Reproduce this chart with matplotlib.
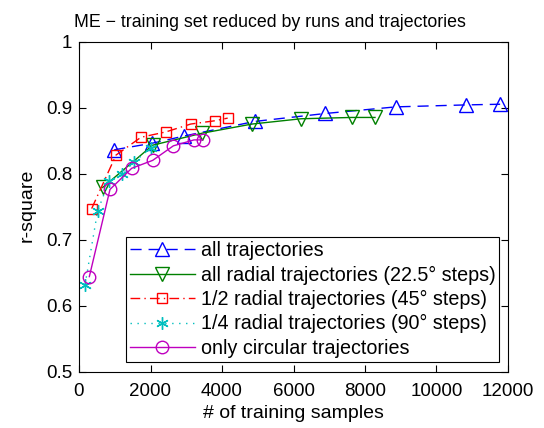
import matplotlib
matplotlib.use("Agg")
import matplotlib.pyplot as plt

plt.rcParams['font.family'] = ['Liberation Sans', 'DejaVu Sans']

title = "ME − training set reduced by runs and trajectories"
xlabel = "# of training samples"
ylabel = "r-square"

labels = [
    "all trajectories",
    "all radial trajectories (22.5° steps)",
    "1/2 radial trajectories (45° steps)",
    "1/4 radial trajectories (90° steps)",
    "only circular trajectories",
]

x_all = [985, 2050, 2950, 4920, 6890, 8860, 10830, 11780]
y_all = [0.836, 0.846, 0.857, 0.879, 0.891, 0.901, 0.904, 0.905]

x_rad = [662, 2061, 3431, 4840, 6210, 7627, 8280]
y_rad = [0.779, 0.843, 0.861, 0.875, 0.883, 0.885, 0.885]

x_half = [354, 1035, 1734, 2424, 3124, 3804, 4159]
y_half = [0.747, 0.828, 0.855, 0.863, 0.875, 0.880, 0.884]

x_quarter = [170, 520, 840, 1193, 1550, 2010]
y_quarter = [0.632, 0.743, 0.789, 0.799, 0.818, 0.839]

x_circ = [289, 867, 1473, 2061, 2639, 3217, 3459]
y_circ = [0.644, 0.776, 0.808, 0.820, 0.842, 0.851, 0.851]

xticks = [0, 2000, 4000, 6000, 8000, 10000, 12000]
yticks = [0.5, 0.6, 0.7, 0.8, 0.9, 1.0]
yticklabels = ["0.5", "0.6", "0.7", "0.8", "0.9", "1"]

W, H = 544, 428
fig = plt.figure(figsize=(W/100, H/100), dpi=100)
ax = fig.add_axes([79/W, 1-371.7/H, (508-79)/W, (371.7-41.5)/H])

fs_tick = 13.5
fs_lab = 14
fs_leg = 14.2
fs_title = 12.8
lw = 1.0
ax.plot(x_all, y_all, color=(0, 0, 1), ls=(0, (8, 5)), lw=lw, marker='^', ms=10,
        mfc='none', mec=(0, 0, 1), mew=1.0, label=labels[0])
ax.plot(x_rad, y_rad, color=(0, 0.5, 0), ls='-', lw=lw, marker='v', ms=10,
        mfc='none', mec=(0, 0.5, 0), mew=1.0, label=labels[1])
ax.plot(x_half, y_half, color=(1, 0, 0), ls=(0, (7, 3, 1, 3)), lw=lw, marker='s', ms=7.5,
        mfc='none', mec=(1, 0, 0), mew=1.0, label=labels[2])
ax.plot(x_quarter, y_quarter, color=(0, 0.75, 0.75), ls=(0, (1, 4)), lw=lw, marker=(6, 2, 0), ms=9,
        mfc='none', mec=(0, 0.75, 0.75), mew=1.0, label=labels[3])
ax.plot(x_circ, y_circ, color=(0.75, 0, 0.75), ls='-', lw=lw, marker='o', ms=9,
        mfc='none', mec=(0.75, 0, 0.75), mew=1.0, label=labels[4])

ax.set_xlim(0, 12000)
ax.set_ylim(0.5, 1.0)
ax.set_xticks(xticks)
ax.set_xticklabels([str(t) for t in xticks])
ax.set_yticks(yticks)
ax.set_yticklabels(yticklabels)
ax.tick_params(direction='in', top=True, right=True, length=5, width=0.8,
               labelsize=fs_tick)
ax.tick_params(axis='x', pad=8)
ax.tick_params(axis='y', pad=5)
for s in ax.spines.values():
    s.set_linewidth(0.8)

fig.text(269.6/W, 1-27/H, title, fontsize=fs_title, ha='center', va='baseline')
ax.set_xlabel(xlabel, fontsize=fs_lab, va='top')
ax.xaxis.set_label_coords(0.5, (371.7-405)/330)
ax.set_ylabel(ylabel, fontsize=fs_lab, va='center')
ax.yaxis.set_label_coords((27-79)/429, 0.505)

leg = ax.legend(loc='lower right', bbox_to_anchor=(499.3/W, 1-361.7/H),
                bbox_transform=fig.transFigure, fontsize=fs_leg, frameon=True,
                fancybox=False, framealpha=1, edgecolor='black',
                handlelength=3.3, handletextpad=0.3, labelspacing=0.27,
                borderpad=0.2, borderaxespad=0)
leg.get_frame().set_linewidth(0.8)

fig.savefig("out.png", dpi=100)
